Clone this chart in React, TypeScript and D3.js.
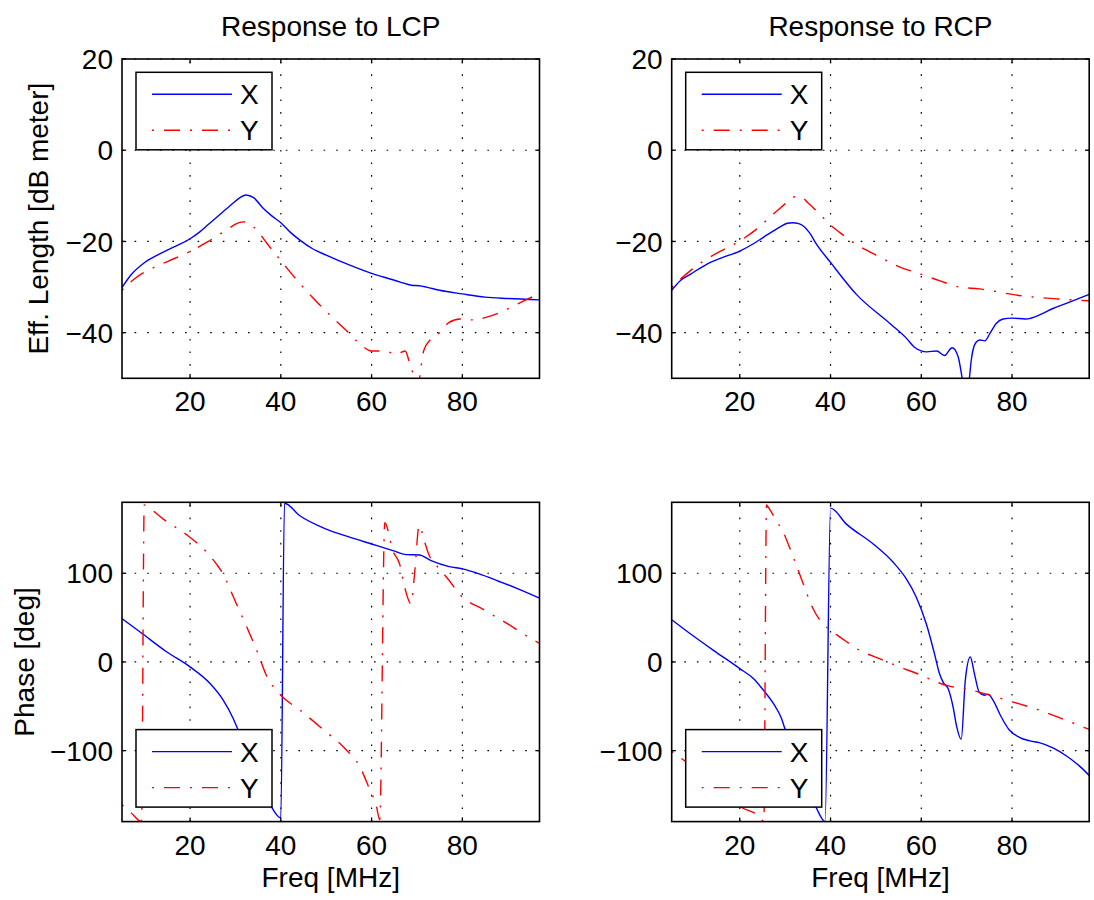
import React from 'react';
import * as d3 from 'd3';

type Pt = [number, number];

// tick values / labels
const freqTicks = [20, 40, 60, 80];
const magTicks = [20, 0, -20, -40];
const phaseTicks = [100, 0, -100];
const titles = ['Response to LCP', 'Response to RCP'];
const legendNames = ['X', 'Y'];

// Eff. length [dB meter] vs freq [MHz], response to LCP
const lcpMagX: Pt[] = [
  [5, -30.1], [7, -27.3], [10, -24.6], [13, -22.9], [16, -21.4], [18, -20.5], [20, -19.4],
  [22, -18.0], [24, -16.3], [26, -14.6], [29, -12.0], [31, -10.4], [32.3, -9.8], [34, -10.4],
  [36, -12.6], [38, -14.4], [40, -15.9], [42, -17.9], [44.2, -19.7], [47, -21.6], [50, -23.0],
  [55.2, -25.2], [60, -27.0], [62.6, -27.8], [66.3, -28.9], [68.8, -29.6], [70.5, -29.7],
  [72.1, -30.0], [75, -30.7], [80, -31.5], [85, -32.2], [90, -32.5], [97, -32.8],
];
const lcpMagY: Pt[] = [
  [5, -30.7], [8, -28.0], [11, -26.2], [15, -24.4], [20, -22.2], [24, -20.0], [28, -17.5],
  [30.5, -16.0], [31.8, -15.7], [33, -16.0], [35, -17.9], [37, -20.5], [40, -24.2], [44, -29.0],
  [47, -32.3], [51, -36.3], [54.5, -39.6], [57.4, -42.4], [60, -44.0], [62.5, -44.0], [64, -44.3],
  [65.3, -44.8], [67.4, -44.0], [68.3, -46.4], [69.2, -49.7], [69.9, -56], [70.7, -49],
  [71.5, -43.9], [73, -41.5], [75, -40.0], [77, -37.8], [79.5, -37.0], [82, -37.2], [85, -36.7],
  [88, -35.7], [91, -34.3], [94, -32.8], [97, -31.5],
];

// response to RCP
const rcpMagX: Pt[] = [
  [5, -30.7], [7, -28.5], [9.1, -27.2], [12.7, -25.0], [16, -23.6], [20, -22.1], [23, -20.5],
  [25.2, -19.1], [28.9, -16.8], [30.5, -16.0], [31.6, -15.9], [33, -16.1], [34, -16.6],
  [35.5, -18.3], [36.9, -20.6], [40, -24.6], [45.7, -31.6], [53.1, -38.0], [56.8, -41.3],
  [58.5, -43.2], [60, -44.0], [61.2, -44.2], [63.4, -44.0], [65.1, -45.0], [66.8, -43.3],
  [68.1, -45.2], [69.0, -50], [69.8, -56], [70.6, -50], [71, -46.1], [72, -42.2], [72.9, -41.6],
  [74, -41.8], [75.1, -40.2], [76.5, -38.0], [78, -37.0], [80, -36.8], [83, -37.0], [86.3, -36.0],
  [89, -34.7], [92.1, -33.5], [97, -31.6],
];
const rcpMagY: Pt[] = [
  [5, -30.1], [7, -28.2], [9, -26.5], [12, -24.3], [16, -22.0], [20, -19.9], [23.7, -17.3],
  [27.4, -14.0], [29.5, -12.2], [31.1, -10.8], [32.5, -10.1], [33.5, -10.2], [35, -11.5],
  [36.2, -12.6], [38, -14.4], [40, -16.4], [42.5, -18.4], [45, -20.2], [50.8, -23.4], [55, -25.5],
  [60, -27.2], [64, -28.6], [68.4, -30.0], [72.8, -30.4], [76, -30.9], [80, -31.6], [83, -32.0],
  [86, -32.3], [90, -32.6], [95, -32.9], [97, -33.0],
];

// Phase [deg] vs freq, response to LCP
const lcpPhX: Pt[] = [
  [5, 48.7], [9, 33.7], [14.9, 11.2], [20, -5.6], [24.4, -24.3], [27.3, -43], [29.5, -63.7],
  [30.6, -76.8], [32, -92], [34, -116], [36, -141], [38, -164], [40, -176], [40.8, 179],
  [44.2, 164.8], [50, 149.8], [55, 141], [60, 133], [64.7, 125.5], [67.6, 121], [70.5, 120.6],
  [73.1, 114.2], [77.1, 107.5], [80, 104.9], [83.7, 99.3], [88, 91], [92, 83], [97, 72],
];
const lcpPhY: Pt[] = [
  [5, -161], [7, -170], [9.3, -180], [9.9, 177], [10.3, 176], [14.1, 161], [19.6, 142],
  [23.7, 123.6], [25.9, 109.7], [27.3, 99], [29.5, 73.8], [32.5, 39.3], [34.7, 13], [36.8, -15],
  [40, -37.5], [44.2, -54.3], [49.3, -76], [54.4, -99], [57.4, -118], [59.6, -144], [61, -161],
  [61.8, -178], [62.9, 157], [64.7, 125], [66.2, 110], [67.3, 84], [68.7, 65.5], [69.4, 95.5],
  [70.5, 153.6], [71.6, 136.7], [72.7, 120], [73.8, 112], [74.9, 105], [77.1, 91.8],
  [79.3, 76.8], [81.5, 67.4], [83.7, 61.8], [87, 52], [90, 43], [93, 33], [97, 21],
];

// response to RCP
const rcpPhX: Pt[] = [
  [5, 47.6], [9.1, 31.8], [14.2, 13.1], [20, -7.5], [23, -18.7], [25.2, -31.8], [27.4, -46.8],
  [29.2, -63.7], [30, -76], [31.5, -95], [33, -115], [34.5, -137], [36, -155], [36.9, -164.8],
  [38.8, -180], [40, 173.4], [43.5, 155.4], [49.4, 133], [53.8, 112.4], [56.7, 93.6], [58.9, 73],
  [61.1, 43], [62.9, 9.4], [64, -13.1], [64.9, -23.6], [65.9, -30], [67, -50.6], [67.8, -73],
  [68.8, -87.3], [69.7, -20.6], [70.8, 5.6], [71.7, -13.1], [72.8, -34.5], [73.9, -37.5],
  [74.7, -36.3], [75.8, -43], [77.6, -61.8], [79.4, -76.8], [81.6, -85], [84, -89], [86, -91],
  [89, -97], [92, -106], [95, -118], [97, -128],
];
const rcpPhY: Pt[] = [
  [5, -101], [8, -112], [12, -128], [16, -145], [20, -163], [24.4, -174.8], [25.3, -180],
  [25.9, 177], [26.2, 175], [28.1, 159], [29.6, 146], [31.8, 118], [34, 88], [35.8, 63.7],
  [37.7, 46.8], [39.5, 37.5], [42.1, 28], [46.4, 13.1], [50.8, 3.7], [55.2, -5.6], [60, -15],
  [63.3, -22.5], [66.2, -27.3], [69.5, -30], [74.3, -36.3], [80.1, -45], [86, -54.3], [90, -62],
  [93, -68], [97, -76],
];

const W = 1094;
const H = 900;
const colLeft = [122, 671.7];
const plotW = 417.5;
const rowTop = [59, 502.3];
const plotH = 319.3;
const FONT = '"Liberation Sans", Arial, Helvetica, sans-serif';
const FS = 28;
const BLUE = '#0000ff';
const RED = '#ff0000';
const DASHDOT = '2,10,16,10';

const fmt = (v: number) => (v < 0 ? '\u2212' + Math.abs(v) : String(v));

type PanelProps = {
  id: string;
  left: number;
  top: number;
  yDomain: [number, number];
  yTicks: number[];
  x: Pt[];
  y: Pt[];
  title?: string;
  xlabel?: string;
  ylabel?: string;
  ylabelX?: number;
  legendBottom: boolean;
};

function Panel(p: PanelProps) {
  const xs = d3.scaleLinear().domain([5, 97]).range([p.left, p.left + plotW]);
  const ys = d3.scaleLinear().domain(p.yDomain).range([p.top + plotH, p.top]);
  const line = d3.line<Pt>().x(d => xs(d[0])).y(d => ys(d[1])).curve(d3.curveMonotoneX);
  const right = p.left + plotW;
  const bottom = p.top + plotH;
  const tl = 4.2;

  const lx = p.left + 14;
  const ly = p.legendBottom ? bottom - 92 : p.top + 13.3;

  return (
    <g>
      <defs>
        <clipPath id={p.id}>
          <rect x={p.left} y={p.top} width={plotW} height={plotH} />
        </clipPath>
      </defs>
      <rect x={p.left} y={p.top} width={plotW} height={plotH} fill="#fff" />
      {/* grid */}
      {freqTicks.map(t => (
        <line key={'gx' + t} x1={xs(t)} x2={xs(t)} y1={bottom} y2={p.top}
          stroke="#000" strokeWidth={1.2} strokeDasharray="1.6,11" />
      ))}
      {p.yTicks.map(t => (
        <line key={'gy' + t} x1={p.left} x2={right} y1={ys(t)} y2={ys(t)}
          stroke="#000" strokeWidth={1.2} strokeDasharray="1.6,11" />
      ))}
      {/* data */}
      <g clipPath={`url(#${p.id})`}>
        <path d={line(p.x) || ''} fill="none" stroke={BLUE} strokeWidth={1.4} />
        <path d={line(p.y) || ''} fill="none" stroke={RED} strokeWidth={1.4} strokeDasharray={DASHDOT} />
      </g>
      {/* ticks */}
      {freqTicks.map(t => (
        <g key={'tx' + t}>
          <line x1={xs(t)} x2={xs(t)} y1={bottom} y2={bottom - tl} stroke="#000" strokeWidth={1.3} />
          <line x1={xs(t)} x2={xs(t)} y1={p.top} y2={p.top + tl} stroke="#000" strokeWidth={1.3} />
          <text x={xs(t)} y={bottom + 33} textAnchor="middle" fontFamily={FONT} fontSize={FS}>{t}</text>
        </g>
      ))}
      {p.yTicks.map(t => (
        <g key={'ty' + t}>
          <line x1={p.left} x2={p.left + tl} y1={ys(t)} y2={ys(t)} stroke="#000" strokeWidth={1.3} />
          <line x1={right} x2={right - tl} y1={ys(t)} y2={ys(t)} stroke="#000" strokeWidth={1.3} />
          <text x={p.left - 9} y={ys(t)} dy="0.36em" textAnchor="end" fontFamily={FONT} fontSize={FS}>{fmt(t)}</text>
        </g>
      ))}
      <rect x={p.left} y={p.top} width={plotW} height={plotH} fill="none" stroke="#000" strokeWidth={1.6} />
      {/* legend */}
      <rect x={lx} y={ly} width={136} height={77.5} fill="#fff" stroke="#000" strokeWidth={1.5} />
      {legendNames.map((n, i) => {
        const ry = ly + 22 + i * 36;
        return (
          <g key={n}>
            <line x1={lx + 16} x2={lx + 96} y1={ry} y2={ry} stroke={i === 0 ? BLUE : RED}
              strokeWidth={1.4} strokeDasharray={i === 0 ? undefined : DASHDOT} />
            <text x={lx + 104} y={ry} dy="0.36em" fontFamily={FONT} fontSize={FS}>{n}</text>
          </g>
        );
      })}
      {p.title && (
        <text x={(p.left + right) / 2} y={p.top - 23} textAnchor="middle" fontFamily={FONT} fontSize={FS}>{p.title}</text>
      )}
      {p.xlabel && (
        <text x={(p.left + right) / 2} y={bottom + 65} textAnchor="middle" fontFamily={FONT} fontSize={FS}>{p.xlabel}</text>
      )}
      {p.ylabel && (
        <text transform={`translate(${p.ylabelX},${(p.top + bottom) / 2}) rotate(-90)`} textAnchor="middle"
          fontFamily={FONT} fontSize={FS}>{p.ylabel}</text>
      )}
    </g>
  );
}

export default function App() {
  return (
    <svg width={W} height={H} style={{ position: 'absolute', left: 0, top: 0, background: '#fff' }}>
      <rect x={0} y={0} width={W} height={H} fill="#fff" />
      <Panel id="c1" left={colLeft[0]} top={rowTop[0]} yDomain={[-50, 20]} yTicks={magTicks}
        x={lcpMagX} y={lcpMagY} title={titles[0]} ylabel="Eff. Length [dB meter]" ylabelX={48} legendBottom={false} />
      <Panel id="c2" left={colLeft[1]} top={rowTop[0]} yDomain={[-50, 20]} yTicks={magTicks}
        x={rcpMagX} y={rcpMagY} title={titles[1]} legendBottom={false} />
      <Panel id="c3" left={colLeft[0]} top={rowTop[1]} yDomain={[-180, 180]} yTicks={phaseTicks}
        x={lcpPhX} y={lcpPhY} xlabel="Freq [MHz]" ylabel="Phase [deg]" ylabelX={34} legendBottom={true} />
      <Panel id="c4" left={colLeft[1]} top={rowTop[1]} yDomain={[-180, 180]} yTicks={phaseTicks}
        x={rcpPhX} y={rcpPhY} xlabel="Freq [MHz]" legendBottom={true} />
    </svg>
  );
}
